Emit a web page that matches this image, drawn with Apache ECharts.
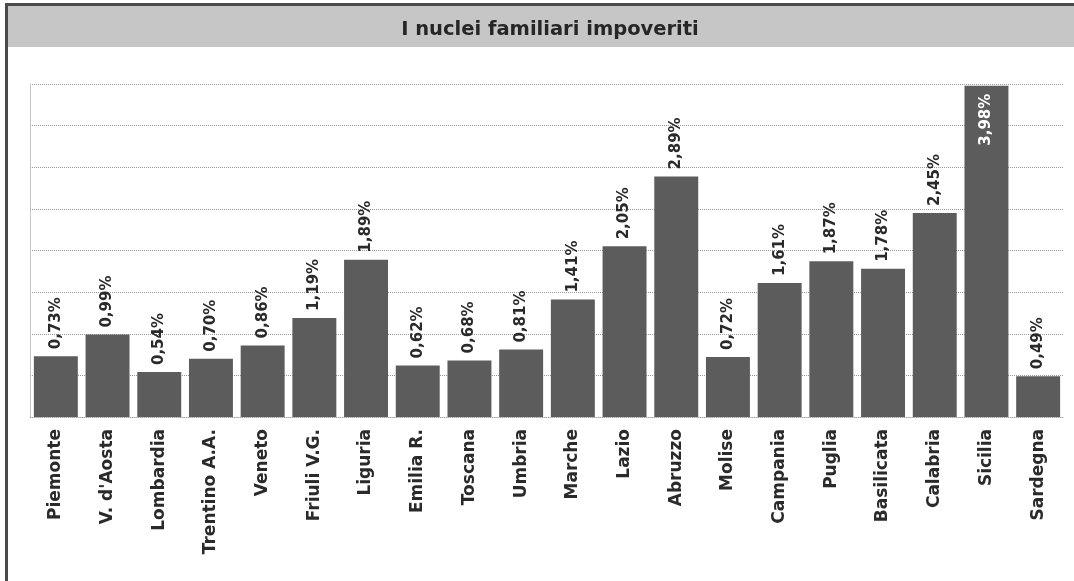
<!DOCTYPE html>
<html>
<head>
<meta charset="utf-8">
<script src="https://cdn.jsdelivr.net/npm/echarts@6/dist/echarts.min.js"></script>
<style>
	html, body { margin: 0; padding: 0; background: #fff; }
	#chart { width: 1074px; height: 581px; }
</style>
</head>
<body>
<div id="chart"></div>
<script>
const regioni = ['Piemonte', "V. d'Aosta", 'Lombardia', 'Trentino A.A.', 'Veneto', 'Friuli V.G.', 'Liguria',
	'Emilia R.', 'Toscana', 'Umbria', 'Marche', 'Lazio', 'Abruzzo', 'Molise', 'Campania', 'Puglia',
	'Basilicata', 'Calabria', 'Sicilia', 'Sardegna'];
const valori = [0.73, 0.99, 0.54, 0.70, 0.86, 1.19, 1.89, 0.62, 0.68, 0.81, 1.41, 2.05, 2.89, 0.72, 1.61, 1.87,
	1.78, 2.45, 3.98, 0.49];
const titolo = 'I nuclei familiari impoveriti';

const fontFam = '"DejaVu Sans", sans-serif';

// Sicilia has its label inside the bar, in white
let seriesData = valori.map((v, i) => {
	if (regioni[i] == 'Sicilia') {
		return {
			value: v,
			label: { position: 'insideTop', rotate: 90, align: 'right', verticalAlign: 'middle', color: '#fff', distance: 8 },
		};
	}
	return v;
});

var chart = echarts.init(document.getElementById('chart'));
var option = {
	backgroundColor: '#fff',
	animation: false,
	graphic: [
		{ type: 'rect', shape: { x: 5, y: 3, width: 1069, height: 44 }, style: { fill: '#c6c6c6' }, silent: true },
		{ type: 'rect', shape: { x: 5, y: 3, width: 1069, height: 3 }, style: { fill: '#4a4a4a' }, silent: true },
		{ type: 'rect', shape: { x: 5, y: 3, width: 3, height: 578 }, style: { fill: '#4a4a4a' }, silent: true },
	],
	title: {
		text: titolo,
		left: 545,
		top: 15,
		textAlign: 'center',
		textStyle: { fontFamily: fontFam, fontWeight: 'bold', fontSize: 19.5, color: '#262626' },
	},
	grid: { left: 30, right: 10, top: 84, bottom: 164 },
	xAxis: {
		type: 'category',
		data: regioni,
		axisLine: { lineStyle: { color: '#aaa', type: 'dotted' } },
		axisTick: { show: false },
		axisLabel: {
			rotate: 90,
			interval: 0,
			margin: 12,
			fontFamily: fontFam,
			fontWeight: 'bold',
			fontSize: 17,
			color: '#2a2a2a',
		},
	},
	yAxis: {
		type: 'value',
		min: 0,
		max: 4,
		interval: 0.5,
		axisLabel: { show: false },
		axisLine: { show: true, lineStyle: { color: '#bbb', type: 'dotted' } },
		axisTick: { show: false },
		splitLine: { lineStyle: { color: '#999', type: 'dotted' } },
	},
	series: [
		{
			type: 'bar',
			data: seriesData,
			barCategoryGap: '15%',
			itemStyle: { color: '#5c5c5c' },
			label: {
				show: true,
				position: 'top',
				rotate: 90,
				align: 'left',
				verticalAlign: 'middle',
				distance: 7,
				fontFamily: fontFam,
				fontWeight: 'bold',
				fontSize: 15,
				color: '#2a2a2a',
				formatter: (p) => p.value.toFixed(2).replace('.', ',') + '%',
			},
		},
	],
};
option && chart.setOption(option);
</script>
</body>
</html>
